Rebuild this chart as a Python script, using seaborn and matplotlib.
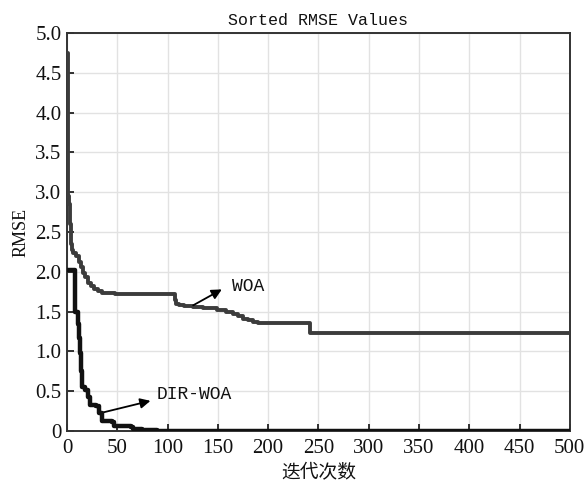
import matplotlib
matplotlib.use("Agg")
import matplotlib.pyplot as plt
import seaborn as sns
import pandas as pd

# ---- data (step breakpoints) ----
woa_iter = [0, 1, 2, 3, 4, 5, 6, 9, 12, 14, 16, 18, 21, 24, 27, 31, 35, 48,
            107, 108, 111, 116, 125, 135, 149, 158, 165, 170, 175, 180, 185,
            190, 242, 500]
woa_rmse = [4.75, 2.95, 2.85, 2.60, 2.35, 2.27, 2.24, 2.20, 2.12, 2.06, 1.98,
            1.93, 1.86, 1.82, 1.79, 1.76, 1.74, 1.72,
            1.65, 1.60, 1.58, 1.57, 1.56, 1.54, 1.52, 1.50, 1.47, 1.44, 1.41,
            1.39, 1.37, 1.36, 1.23, 1.23]

dir_iter = [0, 8, 11, 12, 13, 14, 15, 18, 21, 23, 29, 32, 35, 45, 47, 64, 66,
            75, 90, 500]
dir_rmse = [2.02, 1.50, 1.35, 1.17, 0.98, 0.75, 0.56, 0.52, 0.43, 0.33, 0.31,
            0.23, 0.13, 0.11, 0.06, 0.045, 0.02, 0.012, 0.0, 0.0]

x_ticks = [0, 50, 100, 150, 200, 250, 300, 350, 400, 450, 500]
y_ticks = [0, 0.5, 1.0, 1.5, 2.0, 2.5, 3.0, 3.5, 4.0, 4.5, 5.0]
y_tick_labels = ["0", "0.5", "1.0", "1.5", "2.0", "2.5", "3.0", "3.5",
                 "4.0", "4.5", "5.0"]

title = "Sorted RMSE Values"
xlabel = "迭代次数"
ylabel = "RMSE"

sns.set_style("white")
plt.rcParams["font.family"] = ["Liberation Mono", "Noto Sans CJK SC", "DejaVu Sans"]

fig = plt.figure(figsize=(5.85, 4.86), dpi=100)
ax = fig.add_axes([0.1145, 0.113, 0.8595, 0.819])

df_woa = pd.DataFrame({"iter": woa_iter, "rmse": woa_rmse})
df_dir = pd.DataFrame({"iter": dir_iter, "rmse": dir_rmse})

sns.lineplot(data=df_woa, x="iter", y="rmse", ax=ax, estimator=None,
             drawstyle="steps-post", color="#3c3c3c", linewidth=2.8, zorder=3)
sns.lineplot(data=df_dir, x="iter", y="rmse", ax=ax, estimator=None,
             drawstyle="steps-post", color="#111111", linewidth=3.2, zorder=4)

ax.set_xlim(0, 500)
ax.set_ylim(0, 5.0)
ax.set_xticks(x_ticks)
ax.set_yticks(y_ticks)
ax.set_yticklabels(y_tick_labels)
ax.grid(True, color="#e2e2e2", linewidth=1.0)
ax.set_axisbelow(True)

for s in ax.spines.values():
    s.set_color("#333333")
    s.set_linewidth(1.4)

ax.tick_params(axis="both", direction="in", length=5, width=1.3,
               color="#222222", labelsize=15, labelcolor="#111111",
               top=False, right=False, bottom=True, left=True)
for lab in ax.get_xticklabels() + ax.get_yticklabels():
    lab.set_family(["Liberation Serif", "DejaVu Serif"])
ax.tick_params(axis="x", pad=6)
ax.tick_params(axis="y", pad=4)

ax.set_title(title, fontsize=12, family=["Liberation Mono"], color="#111111", pad=6)
ax.set_xlabel(xlabel, fontsize=13.5, family=["Noto Sans CJK SC"], color="#111111", labelpad=3)
ax.set_ylabel(ylabel, fontsize=13, family=["Liberation Serif"], color="#111111", labelpad=4)

arrow_kw = dict(arrowstyle="-|>", color="black", lw=1.3,
                mutation_scale=15, shrinkA=0, shrinkB=0)
ax.annotate("", xy=(154, 1.78), xytext=(125.5, 1.58), arrowprops=arrow_kw)
ax.annotate("", xy=(83, 0.38), xytext=(34.5, 0.23), arrowprops=arrow_kw)
ax.text(164, 1.82, "WOA", fontsize=13, family=["Liberation Mono"],
        va="center", ha="left", color="#111111")
ax.text(89, 0.46, "DIR-WOA", fontsize=13, family=["Liberation Mono"],
        va="center", ha="left", color="#111111")

legend = ax.get_legend()
if legend is not None:
    legend.remove()

fig.savefig("out.png", dpi=100)
